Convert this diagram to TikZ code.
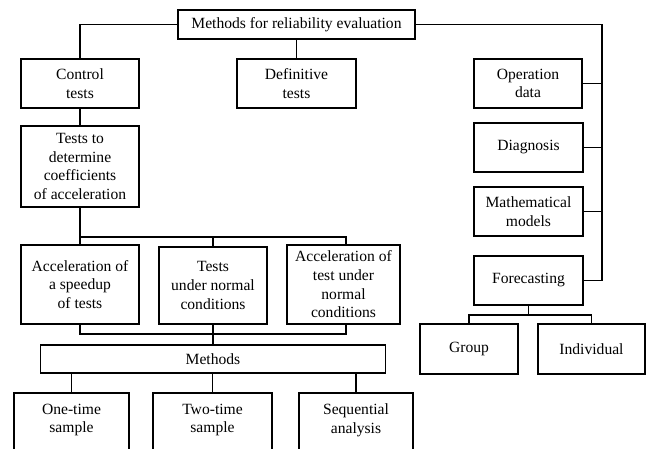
\documentclass[tikz,border=0pt]{standalone}
\usepackage{fontspec}
\setmainfont{Liberation Serif}
\begin{document}
\begin{tikzpicture}[x=1pt,y=-1pt,
  bx/.style={draw, line width=1.9pt, rectangle, inner sep=2pt, align=center,
    font=\fontsize{15.6}{18.7}\selectfont},
  txt/.style={inner sep=0pt, align=center, font=\fontsize{15.6}{18.7}\selectfont},
  ln/.style={line width=1.9pt}]
\clip (0,0) rectangle (646,449);
\fill[white] (0,0) rectangle (646,449);
% boxes
\node[bx, minimum width=237, minimum height=29] (top) at (296.5,24.5) {Methods for reliability evaluation};
\node[bx, minimum width=118, minimum height=49] (control) at (80,83.5) {Control\\tests};
\node[bx, minimum width=119, minimum height=49] (defin) at (296.5,83.5) {Definitive\\tests};
\node[bx, minimum width=108, minimum height=49] (oper) at (528,83.5) {Operation\\data};
\node[bx, minimum width=109, minimum height=49] (diag) at (528.5,147.5) {Diagnosis};
\node[bx, minimum width=109, minimum height=49] (math) at (528.5,211.5) {Mathematical\\models};
\node[bx, minimum width=109, minimum height=49] (fore) at (528.5,280.5) {Forecasting};
\node[bx, minimum width=98, minimum height=50] (group) at (469,349) {Group};
\node[bx, minimum width=107, minimum height=50] (indiv) at (591.5,349) {Individual};
\node[bx, minimum width=118, minimum height=81] (coef) at (80,166.5) {Tests to\\determine\\coefficients\\of acceleration};
\node[bx, minimum width=118, minimum height=79] (acc1) at (80,284.5) {Acceleration of\\a speedup\\of tests};
\node[bx, minimum width=108, minimum height=77] (normal) at (213,285.5) {Tests\\under normal\\conditions};
\node[bx, minimum width=113, minimum height=79] (acc3) at (343.5,284.5) {Acceleration of\\test under\\normal\\conditions};
\node[bx, minimum width=345, minimum height=28] (methods) at (213,359) {Methods};
\node[bx, minimum width=115, minimum height=70] (one) at (71.5,428) {};
\node[txt] (onet) at (71.5,420) {One-time\\sample};
\node[bx, minimum width=119, minimum height=70] (two) at (212.5,428) {};
\node[txt] (twot) at (212.5,420) {Two-time\\sample};
\node[bx, minimum width=114, minimum height=70] (seq) at (356,428) {};
\node[txt] (seqt) at (356,420) {Sequential\\analysis};
% coordinates
\coordinate (rt) at (602,24.5);
\coordinate (rb) at (602,280.5);
\coordinate (bl) at (80,237);
\coordinate (br) at (346,237);
\coordinate (cl) at (80,334);
\coordinate (cr) at (346,334);
\coordinate (fm) at (528.5,315);
% connectors
\draw[ln] (top.west) -| (control.north);
\draw[ln] (top.south) -- (defin.north);
\draw[ln] (top.east) -- (rt) -- (rb) -- (fore.east);
\draw[ln] (oper.east) -- (oper.east -| rt);
\draw[ln] (diag.east) -- (diag.east -| rt);
\draw[ln] (math.east) -- (math.east -| rt);
\draw[ln] (fore.south) -- (fm);
\draw[ln] (group.north) |- (fm) -| (indiv.north);
\draw[ln] (control.south) -- (coef.north);
\draw[ln] (coef.south) -- (bl) -- (br) -- (br |- acc3.north);
\draw[ln] (bl) -- (acc1.north);
\draw[ln] (normal.north) -- (normal.north |- bl);
\draw[ln] (acc1.south) -- (cl) -- (cr) -- (cr |- acc3.south);
\draw[ln] (normal.south) -- (methods.north);
\draw[ln] (one.north) -- (one.north |- methods.south);
\draw[ln] (two.north) -- (two.north |- methods.south);
\draw[ln] (seq.north) -- (seq.north |- methods.south);
\end{tikzpicture}
\end{document}
